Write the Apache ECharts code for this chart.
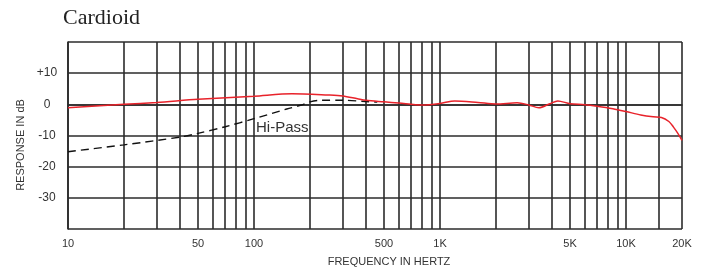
<!DOCTYPE html>
<html>
<head>
<meta charset="utf-8">
<script src="https://cdn.jsdelivr.net/npm/echarts@6/dist/echarts.min.js"></script>
<style>
  html, body { margin: 0; padding: 0; background: #fff; }
  #chart { width: 704px; height: 272px; }
</style>
</head>
<body>
<div id="chart"></div>
<script type="text/javascript">
// frequencies in Hz, levels in dB
var cardFreq = [10, 20, 30, 50, 100, 160, 250, 300, 360, 400, 500, 600, 800, 1000, 1200, 1600, 2000, 2600, 3000, 3400, 3900, 4300, 5000, 6000, 7000, 8500, 10000, 12000, 14000, 15500, 17000, 18000, 19000, 20000];
var cardDb   = [-1.1, 0, 0.6, 1.6, 2.6, 3.4, 3.0, 2.7, 1.8, 1.3, 0.8, 0.4, -0.2, 0.3, 1.1, 0.6, 0.1, 0.5, -0.2, -1.1, 0.2, 1.1, 0.2, -0.1, -0.6, -1.4, -2.3, -3.4, -4.0, -4.2, -5.5, -7.3, -9.3, -11.6];

var hpFreq = [10, 20, 40, 50, 70, 100, 150, 180, 200, 230, 300, 400, 460];
var hpDb   = [-15.2, -13, -10.5, -9.3, -7.2, -4.6, -1.5, -0.2, 0.8, 1.3, 1.3, 0.9, 0.7];

var gridFreq = [10, 20, 30, 40, 50, 60, 70, 80, 90, 100, 200, 300, 400, 500, 600, 700, 800, 900, 1000,
                2000, 3000, 4000, 5000, 6000, 7000, 8000, 9000, 10000, 15000, 20000];
var labelFreq = [10, 50, 100, 500, 1000, 5000, 10000, 20000];
var labelText = ['10', '50', '100', '500', '1K', '5K', '10K', '20K'];

var lg = function (f) { return Math.log10(f); };
var pairs = function (fs, ds) { return fs.map(function (f, i) { return [lg(f), ds[i]]; }); };

var sans = "'Liberation Sans', Arial, sans-serif";
var lineCol = '#2b2b2b';

var myChart = echarts.init(document.getElementById('chart'));
var option = {
	animation: false,
	title: {
		text: 'Cardioid',
		left: 58,
		top: 2,
		textStyle: { fontFamily: "'Liberation Serif', 'Times New Roman', serif", fontSize: 22, fontWeight: 'normal', color: '#222' }
	},
	grid: { left: 68, right: 22, top: 42, bottom: 43 },
	xAxis: {
		type: 'value',
		min: 1,
		max: lg(20000),
		axisLine: { show: true, lineStyle: { color: lineCol, width: 1.6 } },
		axisTick: { show: false, customValues: gridFreq.map(lg) },
		axisLabel: {
			customValues: labelFreq.map(lg),
			margin: 9,
			fontFamily: sans,
			fontSize: 11,
			color: '#333',
			formatter: function (v) {
				var f = Math.round(Math.pow(10, v));
				var i = labelFreq.indexOf(f);
				return i >= 0 ? labelText[i] : '';
			}
		},
		splitLine: { show: true, lineStyle: { color: lineCol, width: 1.6 } }
	},
	yAxis: {
		type: 'value',
		min: -40,
		max: 20,
		interval: 10,
		axisLine: { show: true, lineStyle: { color: lineCol, width: 1.6 } },
		axisTick: { show: false },
		axisLabel: {
			margin: 21,
			align: 'center',
			fontFamily: sans,
			fontSize: 12,
			color: '#333',
			formatter: function (v) {
				if (v >= 20 || v <= -40) return '';
				return v > 0 ? '+' + v : String(v);
			}
		},
		splitLine: { show: true, lineStyle: { color: lineCol, width: 1.6 } }
	},
	graphic: [
		{
			type: 'text', x: 389, y: 262,
			style: { text: 'FREQUENCY IN HERTZ', font: '11px ' + sans, fill: '#333', align: 'center', verticalAlign: 'middle' }
		},
		{
			type: 'text', x: 21, y: 145, rotation: Math.PI / 2,
			style: { text: 'RESPONSE IN dB', font: '11px ' + sans, fill: '#333', align: 'center', verticalAlign: 'middle' }
		}
	],
	series: [
		{
			name: 'Hi-Pass',
			type: 'line',
			data: pairs(hpFreq, hpDb),
			smooth: 0.3,
			symbol: 'none',
			lineStyle: { color: '#111', width: 1.4, type: [8, 5] },
			markPoint: {
				symbol: 'circle',
				symbolSize: 0,
				label: { show: true, position: 'right', distance: 2, formatter: 'Hi-Pass', fontFamily: sans, fontSize: 15, color: '#333' },
				data: [{ coord: [lg(100), -7.6] }]
			},
			z: 3
		},
		{
			name: 'Cardioid',
			type: 'line',
			data: pairs(cardFreq, cardDb),
			smooth: 0.3,
			symbol: 'none',
			lineStyle: { color: '#e8232b', width: 1.5 },
			z: 4
		}
	]
};
myChart.setOption(option);
</script>
</body>
</html>
